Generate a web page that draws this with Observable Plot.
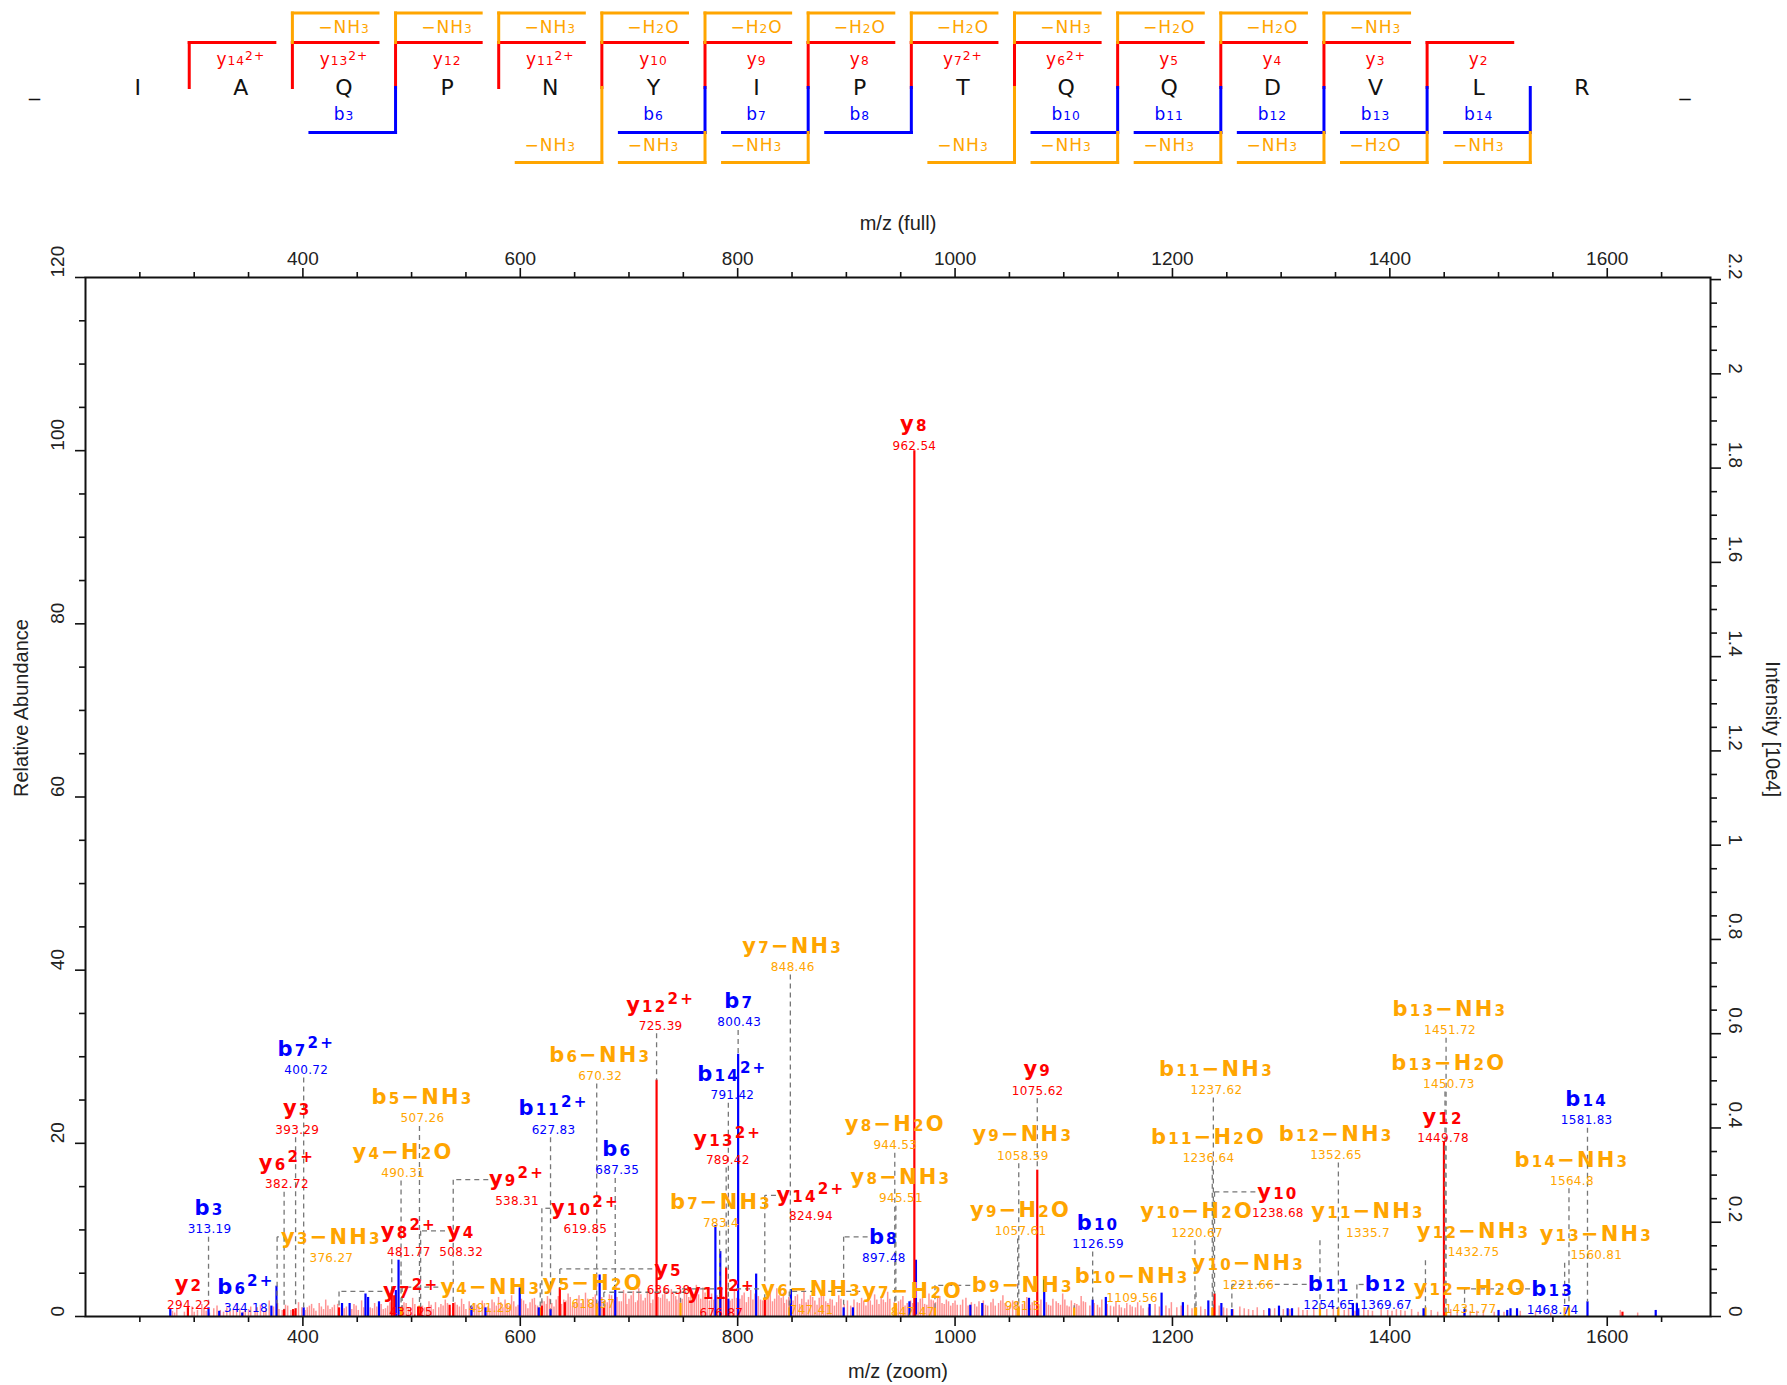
<!DOCTYPE html>
<html>
<head>
<meta charset="utf-8">
<script src="https://cdn.jsdelivr.net/npm/d3@7"></script>
<script src="https://cdn.jsdelivr.net/npm/@observablehq/plot@0.6"></script>
<style>
  html, body { margin: 0; padding: 0; background: #fff; overflow: hidden; }
  svg { display: block; }
</style>
</head>
<body>
<div id="seq"></div>
<div id="chart"></div>
<script>
// ---------------- DATA ----------------
// Peptide sequence map
const residues = ["_", "I", "A", "Q", "P", "N", "Y", "I", "P", "T", "Q", "Q", "D", "V", "L", "R", "_"];
const cleavageSites = [1, 2, 3, 4, 5, 6, 7, 8, 9, 10, 11, 12, 13, 14];
const yIonLabels = ["y₁₄²⁺", "y₁₃²⁺", "y₁₂", "y₁₁²⁺", "y₁₀", "y₉", "y₈", "y₇²⁺", "y₆²⁺", "y₅", "y₄", "y₃", "y₂", null];
const yLossLabels = [null, "−NH₃", "−NH₃", "−NH₃", "−H₂O", "−H₂O", "−H₂O", "−H₂O", "−NH₃", "−H₂O", "−H₂O", "−NH₃", null, null];
const bIonLabels = [null, null, "b₃", null, null, "b₆", "b₇", "b₈", null, "b₁₀", "b₁₁", "b₁₂", "b₁₃", "b₁₄"];
const bLossLabels = [null, null, null, null, "−NH₃", "−NH₃", "−NH₃", null, "−NH₃", "−NH₃", "−NH₃", "−NH₃", "−H₂O", "−NH₃"];

// Annotated fragment ions
const ionNames = ["y₈", "y₇−NH₃", "y₁₂²⁺", "b₇", "b₁₄²⁺", "b₆−NH₃", "b₇²⁺", "y₃", "y₆²⁺", "b₃",
  "b₅−NH₃", "y₄−H₂O", "b₁₁²⁺", "b₆", "y₉²⁺", "y₁₀²⁺", "y₁₄²⁺", "y₈²⁺", "y₄", "y₉",
  "y₁₂", "y₁₀", "y₂", "y₅", "y₇²⁺", "y₁₁²⁺", "y₁₃²⁺", "b₈", "b₁₀", "b₁₁",
  "b₁₂", "b₁₃", "b₁₄", "b₁₃−NH₃", "b₁₃−H₂O", "b₁₁−NH₃", "b₁₁−H₂O", "b₁₂−NH₃", "y₈−H₂O", "y₈−NH₃",
  "y₉−NH₃", "y₉−H₂O", "b₁₄−NH₃", "y₁₀−H₂O", "y₁₀−NH₃", "y₁₁−NH₃", "y₁₂−NH₃", "y₁₃−NH₃", "y₁₂−H₂O", "y₃−NH₃",
  "y₄−NH₃", "y₅−H₂O", "b₇−NH₃", "y₆−NH₃", "y₇−H₂O", "b₉−NH₃", "b₁₀−NH₃", "b₆²⁺"];
const ionMzText = ["962.54", "848.46", "725.39", "800.43", "791.42", "670.32", "400.72", "393.29", "382.72", "313.19",
  "507.26", "490.31", "627.83", "687.35", "538.31", "619.85", "824.94", "481.77", "508.32", "1075.62",
  "1449.78", "1238.68", "294.22", "636.38", "433.25", "676.87", "789.42", "897.48", "1126.59", "1254.65",
  "1369.67", "1468.74", "1581.83", "1451.72", "1450.73", "1237.62", "1236.64", "1352.65", "944.53", "945.51",
  "1058.59", "1057.61", "1564.8", "1220.67", "1221.66", "1335.7", "1432.75", "1560.81", "1431.77", "376.27",
  "491.29", "618.37", "783.4", "747.41", "847.47", "981.5", "1109.56", "344.18"];
const ionKind = ["y", "loss", "y", "b", "b", "loss", "b", "y", "y", "b",
  "loss", "loss", "b", "b", "y", "y", "y", "y", "y", "y",
  "y", "y", "y", "y", "y", "y", "y", "b", "b", "b",
  "b", "b", "b", "loss", "loss", "loss", "loss", "loss", "loss", "loss",
  "loss", "loss", "loss", "loss", "loss", "loss", "loss", "loss", "loss", "loss",
  "loss", "loss", "loss", "loss", "loss", "loss", "loss", "b"];
const ionPeakMz = [962.54, 848.46, 725.39, 800.43, 791.42, 670.32, 400.72, 393.29, 382.72, 313.19,
  507.26, 490.31, 627.83, 687.35, 538.31, 619.85, 824.94, 481.77, 508.32, 1075.62,
  1449.78, 1238.69, 294.22, 636.38, 433.25, 676.87, 789.42, 897.48, 1126.59, 1254.65,
  1369.67, 1468.74, 1581.83, 1451.72, 1450.73, 1237.62, 1236.64, 1352.65, 944.53, 945.51,
  1058.59, 1057.61, 1564.8, 1220.67, 1221.66, 1335.7, 1432.75, 1560.81, 1431.77, 376.27,
  491.29, 618.37, 783.4, 747.41, 847.48, 981.5, 1109.56, 344.18];
const ionPeakInt = [100, 1.5, 27.3, 30.3, 2.0, 1.5, 1.0, 0.9, 0.8, 1.0,
  1.2, 1.0, 0.8, 3.6, 1.5, 1.2, 2.1, 3.0, 1.1, 16.9,
  20.1, 2.6, 1.0, 3.3, 1.0, 1.0, 5.6, 1.0, 1.9, 0.8,
  1.5, 0.8, 1.7, 0.5, 0.5, 1.0, 1.0, 1.0, 1.5, 1.5,
  1.0, 1.0, 1.0, 1.0, 1.0, 1.0, 1.0, 1.0, 0.8, 1.5,
  1.0, 1.0, 2.0, 1.5, 1.0, 1.0, 1.0, 0.4];
const ionLabelMz = [962.54, 850.6, 729.1, 801.4, 795.1, 673.5, 403.1, 394.8, 385.3, 314.1,
  510.0, 492.2, 630.6, 689.2, 597.0, 659.9, 867.4, 497.5, 545.7, 1076.0,
  1449.0, 1297.0, 295.2, 736.4, 499.6, 785.0, 790.9, 934.5, 1131.5, 1344.2,
  1396.6, 1549.7, 1581.1, 1455.3, 1454.3, 1240.5, 1233.2, 1350.5, 945.0, 950.2,
  1062.3, 1060.2, 1567.5, 1222.7, 1269.8, 1379.9, 1477.0, 1590.0, 1474.2, 426.2,
  572.9, 667.2, 784.6, 868.0, 961.0, 1062.3, 1162.9, 347.6];
const ionLabelLevel = [103.0, 42.8, 36.0, 36.4, 28.0, 30.2, 30.9, 24.0, 17.7, 12.5,
  25.3, 19.0, 24.0, 19.3, 15.8, 12.5, 14.0, 9.9, 9.9, 28.5,
  23.0, 14.4, 3.7, 5.5, 2.9, 2.8, 20.5, 9.2, 10.8, 3.7,
  3.7, 3.2, 25.1, 35.5, 29.3, 28.6, 20.7, 21.1, 22.2, 16.1,
  21.0, 12.3, 18.1, 12.1, 6.1, 12.1, 9.8, 9.5, 3.3, 9.2,
  3.4, 3.8, 13.2, 3.2, 2.9, 3.6, 4.6, 3.4];

// Unannotated coloured peaks
const extraBlueMz = [278, 323, 371, 375.7, 436, 443, 457.6, 460, 470, 485.5, 488, 555, 568, 599.5, 617, 673,
  779.5, 784, 817, 849, 906, 958, 964, 1014, 1025, 1068, 1082, 1138.7, 1179, 1190, 1209.6, 1233,
  1245, 1289, 1298, 1306, 1310, 1366, 1371, 1431, 1500, 1508, 1511, 1517, 1644.6];
const extraBlueInt = [0.8, 0.6, 1.2, 3.5, 1.5, 1.5, 2.6, 2.2, 1.7, 3.0, 6.5, 1.2, 1.0, 3.3, 1.0, 4.8,
  10.5, 7.5, 4.9, 3.1, 1.0, 1.7, 6.5, 1.3, 1.5, 2.1, 4.2, 2.2, 1.4, 2.7, 1.6, 1.8,
  1.5, 0.9, 1.2, 0.9, 0.9, 1.5, 0.9, 0.9, 0.7, 0.7, 0.9, 0.9, 0.7];
const extraRedMz = [391, 484, 506, 535, 641, 1614];
const extraRedInt = [0.8, 2.4, 1.1, 1.3, 1.6, 0.5];

// Unassigned (noise) peaks, two passes of reading
const noiseMzA = [280, 284, 291, 298, 303, 307, 311, 318, 321, 327, 330, 336, 339, 347, 352, 356, 361, 366, 369, 378,
  386, 389, 396, 404, 408, 412, 417, 421, 425, 429, 438, 447, 451, 454, 462, 466, 474, 478, 493, 497,
  501, 512, 516, 520, 527, 531, 535, 542, 546, 550, 558, 562, 565, 572, 576, 580, 584, 588, 592, 596,
  603, 607, 611, 614, 622, 625, 631, 640, 644, 648, 652, 656, 660, 664, 667, 678, 682, 691, 695, 698,
  702, 706, 709, 713, 717, 720, 729, 733, 737, 741, 744, 751, 755, 758, 762, 766, 770, 774, 787, 795,
  804, 808, 812, 821, 828, 832, 836, 840, 843, 853, 857, 861, 865, 869, 873, 877, 881, 885, 889, 893,
  910, 914, 918, 922, 926, 930, 934, 938, 948, 952, 956, 968, 972, 976, 980, 984, 988, 992, 996, 1000,
  1005, 1010, 1018, 1022, 1030, 1035, 1040, 1044, 1048, 1053, 1062, 1066, 1071, 1079, 1086, 1090, 1095, 1099, 1103, 1107,
  1112, 1116, 1120, 1131, 1135, 1143, 1148, 1153, 1158, 1163, 1168, 1173, 1184, 1194, 1199, 1204, 1214, 1226, 1243, 1250,
  1262, 1270, 1278, 1284, 1294, 1302, 1316, 1324, 1330, 1342, 1348, 1358, 1362, 1376, 1384, 1392, 1398, 1406, 1414, 1420,
  1426, 1438, 1456, 1462, 1474, 1486, 1496, 1520, 1534, 1548, 1612, 1628];
const noiseIntA = [0.6, 0.9, 0.5, 1.1, 0.7, 1.4, 0.6, 0.9, 1.2, 0.5, 1.0, 0.8, 1.5, 0.7, 1.1, 0.6, 1.3, 0.9, 1.8, 0.8,
  1.2, 0.7, 1.6, 1.0, 1.4, 0.6, 1.1, 1.9, 0.8, 1.3, 0.9, 1.4, 0.7, 1.8, 1.0, 1.5, 0.8, 1.2, 1.6, 0.9,
  2.1, 1.0, 1.7, 0.8, 1.4, 1.9, 0.9, 1.3, 2.0, 0.8, 1.5, 1.1, 1.8, 0.9, 1.6, 2.2, 1.0, 1.4, 2.4, 1.1,
  1.8, 0.9, 2.0, 1.3, 1.7, 2.3, 1.1, 1.9, 2.6, 1.2, 2.0, 1.5, 2.7, 1.3, 2.2, 1.8, 2.5, 1.7, 3.0, 1.4,
  2.4, 1.6, 3.2, 1.8, 2.9, 1.5, 2.1, 3.4, 1.7, 2.6, 1.9, 3.1, 2.2, 1.6, 3.6, 2.0, 2.7, 1.8, 2.3, 2.0,
  2.4, 1.6, 3.0, 1.9, 2.5, 1.7, 3.2, 2.1, 1.5, 2.3, 1.4, 2.8, 1.9, 2.2, 1.3, 2.6, 1.7, 2.0, 1.2, 2.4,
  1.6, 2.1, 1.2, 1.8, 2.5, 1.4, 1.9, 2.8, 1.7, 2.3, 1.5, 2.0, 1.4, 2.6, 1.8, 2.2, 1.5, 1.9, 1.2, 1.8,
  1.3, 2.1, 1.4, 1.7, 1.2, 2.0, 1.5, 2.4, 1.1, 1.8, 1.4, 2.2, 1.6, 1.9, 1.3, 2.0, 1.5, 2.6, 1.2, 1.8,
  1.4, 2.3, 1.6, 1.3, 1.9, 1.2, 1.7, 1.0, 1.5, 1.1, 1.6, 0.9, 1.4, 1.2, 1.6, 1.0, 1.3, 1.1, 1.2, 0.9,
  1.1, 0.8, 1.0, 0.7, 0.9, 0.8, 1.0, 0.7, 0.9, 0.8, 1.1, 0.7, 0.9, 0.8, 0.6, 0.9, 0.7, 0.8, 0.6, 0.8,
  0.5, 0.7, 0.8, 0.5, 0.6, 0.7, 0.5, 0.6, 0.5, 0.4, 0.7, 0.4];
const noiseMzB = [282, 294, 300, 309, 314, 324, 333, 342, 345, 350, 358, 364, 373, 381, 384, 392, 399, 402, 406, 410,
  415, 419, 423, 427, 432, 440, 445, 449, 456, 460, 464, 468, 472, 476, 480, 491, 495, 499, 503, 510,
  514, 518, 522, 525, 529, 533, 538, 540, 544, 548, 553, 556, 560, 567, 570, 574, 578, 582, 586, 590,
  594, 598, 601, 605, 609, 613, 616, 620, 624, 627, 629, 633, 635, 638, 642, 646, 650, 654, 658, 662,
  666, 669, 672, 675, 680, 684, 686, 689, 693, 697, 700, 704, 708, 711, 715, 719, 722, 724, 727, 731,
  735, 739, 743, 746, 749, 753, 757, 760, 764, 768, 772, 776, 778, 781, 785, 790, 793, 797, 799, 802,
  806, 810, 814, 816, 819, 823, 826, 830, 834, 838, 842, 845, 847, 851, 855, 859, 863, 867, 871, 875,
  879, 883, 887, 891, 895, 898, 901, 904, 907, 912, 916, 920, 924, 928, 932, 936, 940, 944, 946, 950,
  954, 959, 961, 966, 970, 974, 978, 982, 986, 990, 994, 998, 1002, 1007, 1012, 1015, 1020, 1026, 1028, 1033,
  1037, 1042, 1046, 1050, 1056, 1059, 1064, 1069, 1073, 1077, 1084, 1088, 1093, 1097, 1101, 1105, 1110, 1114, 1118, 1124,
  1128, 1133, 1140, 1146, 1151, 1156, 1161, 1166, 1171, 1178, 1188, 1197, 1208, 1218, 1222, 1230, 1247, 1256, 1266, 1274,
  1290, 1298, 1308, 1320, 1336, 1352, 1368, 1380, 1402, 1410, 1432, 1444, 1468, 1480, 1505];
const noiseIntB = [0.4, 0.7, 0.5, 0.9, 0.4, 0.7, 0.6, 0.9, 0.5, 0.8, 1.0, 0.6, 1.1, 0.7, 1.3, 0.6, 1.0, 0.7, 1.2, 0.9,
  1.5, 0.8, 1.2, 1.0, 1.4, 1.1, 0.8, 1.2, 1.0, 1.3, 0.9, 1.1, 1.4, 0.9, 1.6, 1.2, 1.5, 1.0, 1.4, 1.2,
  0.9, 1.3, 1.6, 1.0, 1.2, 1.5, 1.0, 1.6, 1.1, 1.4, 1.7, 1.0, 1.3, 1.5, 1.1, 1.9, 1.2, 1.6, 1.9, 1.2,
  1.7, 1.3, 2.0, 1.4, 1.6, 2.1, 1.2, 1.8, 1.4, 2.0, 1.5, 1.9, 2.3, 1.4, 1.8, 2.2, 1.5, 2.4, 1.8, 2.0,
  1.6, 2.5, 1.7, 2.2, 1.6, 2.4, 1.9, 2.2, 1.7, 2.6, 2.0, 2.9, 1.8, 2.5, 2.1, 3.0, 1.9, 2.7, 2.2, 2.5,
  2.0, 3.1, 2.3, 2.8, 2.0, 2.6, 3.0, 2.2, 2.5, 3.3, 2.1, 2.6, 1.9, 2.4, 2.0, 2.6, 1.8, 2.9, 2.1, 2.0,
  2.7, 2.2, 1.9, 2.6, 2.3, 1.8, 2.2, 2.9, 2.0, 2.4, 2.7, 1.9, 2.2, 1.8, 2.5, 2.0, 1.6, 2.4, 1.8, 2.1,
  2.3, 1.5, 1.9, 1.6, 2.0, 1.4, 1.8, 1.2, 1.9, 1.5, 1.8, 2.2, 1.3, 1.9, 2.3, 1.6, 2.0, 1.6, 1.4, 1.9,
  1.2, 1.8, 1.5, 1.6, 2.1, 1.3, 1.9, 1.6, 2.3, 1.4, 1.7, 1.5, 1.3, 1.9, 1.2, 1.6, 1.1, 1.8, 1.3, 1.6,
  1.2, 1.8, 1.5, 1.2, 1.7, 1.2, 1.6, 1.3, 1.8, 1.4, 1.6, 1.2, 1.7, 1.3, 1.9, 1.1, 1.5, 1.2, 1.7, 1.2,
  1.5, 1.0, 1.4, 1.1, 1.3, 0.9, 1.3, 1.0, 1.2, 1.0, 1.1, 0.9, 1.2, 0.9, 1.0, 0.8, 1.0, 0.8, 0.9, 0.7,
  0.8, 0.6, 0.8, 0.7, 0.8, 0.7, 0.6, 0.7, 0.6, 0.7, 0.6, 0.5, 0.5, 0.6, 0.5];

// Axes
const mzDomain = [200, 1695];
const mzMajorTicks = [400, 600, 800, 1000, 1200, 1400, 1600];
const abundanceTicks = [0, 20, 40, 60, 80, 100, 120];
const intensityTicks = [0, 0.2, 0.4, 0.6, 0.8, 1, 1.2, 1.4, 1.6, 1.8, 2, 2.2];
const intensityTickLabels = ["0", "0.2", "0.4", "0.6", "0.8", "1", "1.2", "1.4", "1.6", "1.8", "2", "2.2"];
const basePeakIntensity = 1.837; // [10e4], intensity of the 100 % peak

// ---------------- STYLE ----------------
const W = 1787;
const RED = "#ff0000", BLUE = "#0000ff", ORANGE = "#ffa500", NOISE = "#ff9494";
const kindColor = {b: BLUE, y: RED, loss: ORANGE};
const AXIS_FONT = "Liberation Sans, Arial, Helvetica, sans-serif";
const LABEL_FONT = "DejaVu Sans, Verdana, sans-serif";
const SVGNS = "http://www.w3.org/2000/svg";

// Render unicode sub/superscript characters as smaller real digits (tspans)
const smallChars = {"₀": "0", "₁": "1", "₂": "2", "₃": "3", "₄": "4", "₅": "5", "₆": "6", "₇": "7", "₈": "8", "₉": "9", "²": "2", "⁺": "+"};
function richify(textEl, scale, supShift) {
  const s = textEl.textContent;
  const runs = [];
  for (const ch of s) {
    const kind = /[₀-₉]/.test(ch) ? "sub" : /[²⁺]/.test(ch) ? "sup" : "n";
    const t = smallChars[ch] ?? ch;
    if (runs.length && runs[runs.length - 1].kind === kind) runs[runs.length - 1].t += t;
    else runs.push({t, kind});
  }
  while (textEl.firstChild) textEl.removeChild(textEl.firstChild);
  for (const r of runs) {
    const ts = document.createElementNS(SVGNS, "tspan");
    ts.textContent = r.t;
    if (r.kind !== "n") ts.setAttribute("font-size", scale + "em");
    if (r.kind === "sup") ts.setAttribute("baseline-shift", supShift);
    textEl.appendChild(ts);
  }
}

// ---------------- SEQUENCE MAP ----------------
const SEQ_H = 180;
const LV = {lossTop: 12.5, yIon: 42, residue: 87, bIon: 132, lossBottom: 162};
const SPAN = 0.83;
const segs = [];
const addSeg = (x1, y1, x2, y2, c) => segs.push({x1, y1, x2, y2, c});
cleavageSites.forEach((k, i) => {
  const x = k + 0.5;
  if (yIonLabels[i]) { addSeg(x, LV.residue, x, LV.yIon, RED); addSeg(x, LV.yIon, x + SPAN, LV.yIon, RED); }
  if (yLossLabels[i]) { addSeg(x, LV.yIon, x, LV.lossTop, ORANGE); addSeg(x, LV.lossTop, x + SPAN, LV.lossTop, ORANGE); }
  if (bIonLabels[i]) { addSeg(x, LV.residue, x, LV.bIon, BLUE); addSeg(x - SPAN, LV.bIon, x, LV.bIon, BLUE); }
  if (bLossLabels[i]) {
    addSeg(x, bIonLabels[i] ? LV.bIon : LV.residue, x, LV.lossBottom, ORANGE);
    addSeg(x - SPAN, LV.lossBottom, x, LV.lossBottom, ORANGE);
  }
});
const seqText = [];
cleavageSites.forEach((k, i) => {
  if (yIonLabels[i]) seqText.push({x: k + 1, y: 59, t: yIonLabels[i], c: RED});
  if (yLossLabels[i]) seqText.push({x: k + 1, y: 27, t: yLossLabels[i], c: ORANGE});
  if (bIonLabels[i]) seqText.push({x: k, y: 114, t: bIonLabels[i], c: BLUE});
  if (bLossLabels[i]) seqText.push({x: k, y: 145, t: bLossLabels[i], c: ORANGE});
});

const seqPlot = Plot.plot({
  width: W, height: SEQ_H,
  marginTop: 0, marginBottom: 0, marginLeft: 34, marginRight: 102.5,
  x: {domain: [0, residues.length - 1], axis: null},
  y: {domain: [0, SEQ_H], range: [0, SEQ_H], axis: null},
  color: {type: "identity"},
  style: {background: "white"},
  marks: [
    Plot.link(segs, {x1: "x1", y1: "y1", x2: "x2", y2: "y2", stroke: d => d.c, strokeWidth: 3, strokeLinecap: "square"}),
    Plot.text(residues, {x: (d, i) => i, y: () => LV.residue, text: d => d, fill: "#111", fontSize: 22,
      fontFamily: LABEL_FONT, lineAnchor: "middle"}),
    Plot.text(seqText, {x: "x", y: "y", text: "t", fill: d => d.c, fontSize: 17, fontFamily: LABEL_FONT,
      lineAnchor: "middle"})
  ]
});
seqPlot.querySelectorAll('g[font-size="17"] text').forEach(t => { richify(t, 0.72, "0.45em"); t.setAttribute("letter-spacing", "1"); });
document.getElementById("seq").appendChild(seqPlot);

// ---------------- SPECTRUM ----------------
const H = 1205;
const M = {top: 97, right: 77, bottom: 69, left: 85};
const PX_PER_MZ = (W - M.left - M.right) / (mzDomain[1] - mzDomain[0]);

const noise = noiseMzA.map((m, i) => ({mz: m, v: noiseIntA[i]}))
  .concat(noiseMzB.map((m, i) => ({mz: m, v: noiseIntB[i]})));
const sticks = [];
ionNames.forEach((n, i) => { if (ionKind[i] === "loss") sticks.push({mz: ionPeakMz[i], v: ionPeakInt[i], c: ORANGE}); });
extraBlueMz.forEach((m, i) => sticks.push({mz: m, v: extraBlueInt[i], c: BLUE}));
ionNames.forEach((n, i) => { if (ionKind[i] === "b") sticks.push({mz: ionPeakMz[i], v: ionPeakInt[i], c: BLUE}); });
extraRedMz.forEach((m, i) => sticks.push({mz: m, v: extraRedInt[i], c: RED}));
ionNames.forEach((n, i) => { if (ionKind[i] === "y") sticks.push({mz: ionPeakMz[i], v: ionPeakInt[i], c: RED}); });

const isSmall = ch => /[₀-₉²⁺]/.test(ch);
const labelWidthPx = s => Array.from(s).reduce((w, ch) => w + (isSmall(ch) ? 12.5 : 20), 0);

const conn = [];
ionNames.forEach((n, i) => {
  const pm = ionPeakMz[i], pv = ionPeakInt[i], lm = ionLabelMz[i], lv = ionLabelLevel[i];
  const half = labelWidthPx(n) / 2 / PX_PER_MZ;
  if (Math.abs(lm - pm) <= half) {
    const top = lv - 3.3;
    if (top > pv) conn.push({x1: pm, y1: top, x2: pm, y2: pv});
  } else {
    const edge = pm < lm ? lm - half : lm + half;
    conn.push({x1: edge, y1: lv, x2: pm, y2: lv});
    conn.push({x1: pm, y1: lv, x2: pm, y2: pv});
  }
});
const labels = ionNames.map((n, i) => ({name: n, mzt: ionMzText[i], x: ionLabelMz[i], y: ionLabelLevel[i], c: kindColor[ionKind[i]]}));

const toRel = v => v / basePeakIntensity * 100;
const mzMinor = d3.range(250, 1695, 50).filter(v => !mzMajorTicks.includes(v));
const abMinor = d3.range(5, 120, 5).filter(v => v % 20 !== 0);
const intMinor = d3.range(1, 45).filter(j => j % 4 !== 0).map(j => j * 0.05);

const axisCommon = {stroke: "#111", strokeWidth: 1.6, label: null};
const blank = () => "";
const plain = d => String(d);

const chart = Plot.plot({
  width: W, height: H,
  marginTop: M.top, marginRight: M.right, marginBottom: M.bottom, marginLeft: M.left,
  x: {domain: mzDomain},
  y: {domain: [0, 120]},
  color: {type: "identity"},
  style: {background: "white", fontFamily: AXIS_FONT},
  marks: [
    Plot.ruleX(noise, {x: "mz", y1: 0, y2: "v", stroke: NOISE, strokeWidth: 1.5}),
    Plot.ruleX(sticks, {x: "mz", y1: 0, y2: "v", stroke: d => d.c, strokeWidth: 2.2}),
    Plot.link(conn, {x1: "x1", y1: "y1", x2: "x2", y2: "y2", stroke: "#777", strokeWidth: 1.3, strokeDasharray: "5,4"}),
    Plot.text(labels, {x: "x", y: "y", text: "name", fill: d => d.c, fontSize: 21, fontWeight: "bold",
      fontFamily: LABEL_FONT, lineAnchor: "middle"}),
    Plot.text(labels, {x: "x", y: "y", text: "mzt", fill: d => d.c, fontSize: 12, fontFamily: LABEL_FONT,
      lineAnchor: "middle", dy: 21}),
    // frame
    Plot.frame({stroke: "#111", strokeWidth: 2}),
    // x axes (bottom = zoom, top = full)
    Plot.axisX(mzMajorTicks, {...axisCommon, anchor: "bottom", tickSize: 10, tickPadding: 3, fontSize: 19, fill: "#222", tickFormat: plain}),
    Plot.axisX(mzMinor, {...axisCommon, anchor: "bottom", tickSize: 6, tickFormat: blank}),
    Plot.axisX(mzMajorTicks, {...axisCommon, anchor: "top", tickSize: 10, tickPadding: 3, fontSize: 19, fill: "#222", tickFormat: plain}),
    Plot.axisX(mzMinor, {...axisCommon, anchor: "top", tickSize: 6, tickFormat: blank}),
    // left y axis (relative abundance)
    Plot.axisY(abundanceTicks, {...axisCommon, anchor: "left", tickSize: 10, tickFormat: blank}),
    Plot.axisY(abMinor, {...axisCommon, anchor: "left", tickSize: 6, tickFormat: blank}),
    Plot.text(abundanceTicks, {y: d => d, text: d => String(d), frameAnchor: "left", dx: -28, rotate: -90,
      fontSize: 19, fill: "#222", lineAnchor: "middle"}),
    // right y axis (intensity)
    Plot.axisY(intensityTicks.map(toRel), {...axisCommon, anchor: "right", tickSize: 10, tickFormat: blank}),
    Plot.axisY(intMinor.map(toRel), {...axisCommon, anchor: "right", tickSize: 6, tickFormat: blank}),
    Plot.text(intensityTicks, {y: d => toRel(d), text: (d, i) => intensityTickLabels[i], frameAnchor: "right", dx: 25, rotate: 90,
      fontSize: 19, fill: "#222", lineAnchor: "middle"}),
    // axis titles
    Plot.text(["m/z (full)"], {text: d => d, frameAnchor: "top", dy: -54, fontSize: 20, fill: "#222", lineAnchor: "middle"}),
    Plot.text(["m/z (zoom)"], {text: d => d, frameAnchor: "bottom", dy: 55, fontSize: 20, fill: "#222", lineAnchor: "middle"}),
    Plot.text(["Relative Abundance"], {text: d => d, frameAnchor: "left", dx: -64, rotate: -90, fontSize: 20, fill: "#222", lineAnchor: "middle"}),
    Plot.text(["Intensity [10e4]"], {text: d => d, frameAnchor: "right", dx: 62, rotate: 90, fontSize: 20, fill: "#222", lineAnchor: "middle"})
  ]
});
chart.querySelectorAll('g[font-weight="bold"] text').forEach(t => { richify(t, 0.72, "0.5em"); t.setAttribute("letter-spacing", "2.2"); });
chart.querySelectorAll('g[font-size="12"] text').forEach(t => { t.setAttribute("letter-spacing", "0.3"); });
document.getElementById("chart").appendChild(chart);
</script>
</body>
</html>
